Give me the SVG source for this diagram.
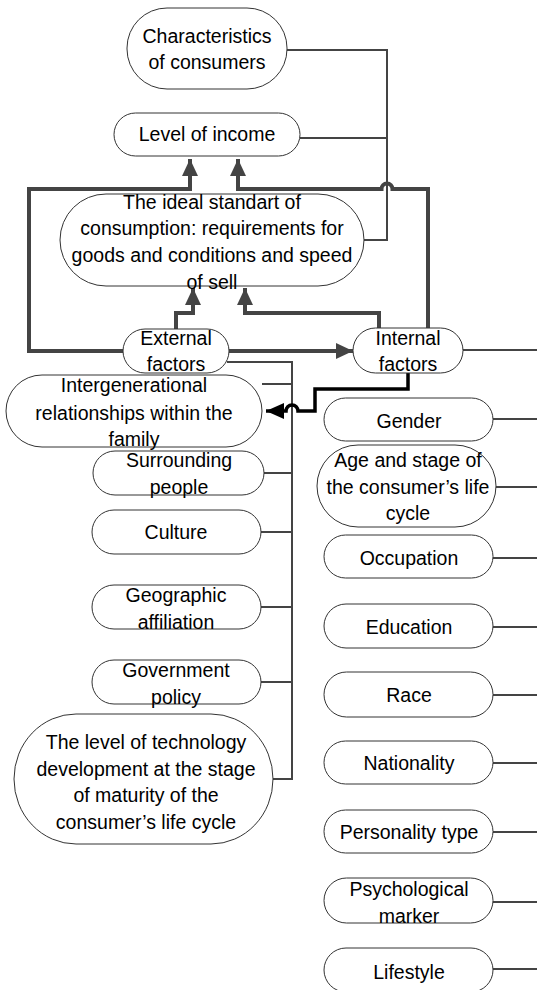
<svg xmlns="http://www.w3.org/2000/svg" width="537" height="990" viewBox="0 0 537 990">
<defs>
<style>
.n{fill:#fff;stroke:#333;stroke-width:1}
.t{font-family:"Liberation Sans",Arial,sans-serif;font-size:19.5px;fill:#000;text-anchor:middle}
.thin{fill:none;stroke:#444;stroke-width:2}
.thick{fill:none;stroke:#444;stroke-width:4}
.blk{fill:none;stroke:#000;stroke-width:3.5}
</style>
<marker id="ah" markerWidth="17" markerHeight="16" refX="17" refY="8" orient="auto" markerUnits="userSpaceOnUse"><path d="M0,0 L17,8 L0,16 Z" fill="#444"/></marker>
<marker id="ab" markerWidth="18" markerHeight="16" refX="18" refY="8" orient="auto" markerUnits="userSpaceOnUse"><path d="M0,0 L18,8 L0,16 Z" fill="#000"/></marker>
</defs>
<g id="connectors">
<path class="thin" d="M287,50 H387 V194 M387,184 V240 H364"/>
<path class="thin" d="M300,138 H387"/>
<path class="thick" d="M123,351 H29 V189 H190 V159" marker-end="url(#ah)"/>
<path class="thick" d="M428,329 V189 H392.5 A5.5,5.5 0 0 0 381.5,189 H238 V159" marker-end="url(#ah)"/>
<path class="thick" d="M176,329 V313 H193 V288" marker-end="url(#ah)"/>
<path class="thick" d="M379,329 V313 H245 V288" marker-end="url(#ah)"/>
<path class="thick" d="M229,351 H353" marker-end="url(#ah)"/>
<path class="thin" d="M462,350 H537"/>
<path class="thin" d="M227,362 H292 V779 H273"/>
<path class="thin" d="M262,384 H292"/>
<path class="thin" d="M264,473 H292"/>
<path class="thin" d="M261,532 H292"/>
<path class="thin" d="M261,607 H292"/>
<path class="thin" d="M261,682 H292"/>
<path class="blk" d="M408,366 V389 H315 V411 H298 A6,6 0 0 0 286,411 H266" marker-end="url(#ab)"/>
<path class="thin" d="M493,419 H537"/>
<path class="thin" d="M496,487 H537"/>
<path class="thin" d="M493,558 H537"/>
<path class="thin" d="M493,627 H537"/>
<path class="thin" d="M493,695 H537"/>
<path class="thin" d="M493,763 H537"/>
<path class="thin" d="M493,832 H537"/>
<path class="thin" d="M493,902 H537"/>
<path class="thin" d="M493,969 H537"/>
</g>
<g id="characteristics"><rect class="n" x="127" y="8" width="160" height="81" rx="40" ry="40"/><text class="t" x="207" y="43">Characteristics</text><text class="t" x="207" y="69">of consumers</text></g>
<g id="income"><rect class="n" x="114" y="113" width="186" height="43" rx="21.5"/><text class="t" x="207" y="141">Level of income</text></g>
<g id="ideal"><rect class="n" x="60" y="194" width="304" height="92" rx="46"/><text class="t" x="212" y="209">The ideal standart of</text><text class="t" x="212" y="235">consumption: requirements for</text><text class="t" x="212" y="262">goods and conditions and speed</text><text class="t" x="212" y="289">of sell</text></g>
<g id="external"><rect class="n" x="123" y="329" width="106" height="44" rx="22"/><text class="t" x="176" y="345">External</text><text class="t" x="176" y="371">factors</text></g>
<g id="internal"><rect class="n" x="353" y="328" width="110" height="45" rx="22.5"/><text class="t" x="408" y="345">Internal</text><text class="t" x="408" y="371">factors</text></g>
<g id="intergenerational"><rect class="n" x="6" y="375" width="256" height="72" rx="36"/><text class="t" x="134" y="392">Intergenerational</text><text class="t" x="134" y="420">relationships within the</text><text class="t" x="134" y="446">family</text></g>
<g id="surrounding"><rect class="n" x="93" y="451" width="171" height="44" rx="22"/><text class="t" x="179" y="467">Surrounding</text><text class="t" x="179" y="494">people</text></g>
<g id="culture"><rect class="n" x="92" y="510" width="169" height="44" rx="22"/><text class="t" x="176" y="539">Culture</text></g>
<g id="geographic"><rect class="n" x="92" y="585" width="169" height="44" rx="22"/><text class="t" x="176" y="602">Geographic</text><text class="t" x="176" y="629">affiliation</text></g>
<g id="government"><rect class="n" x="92" y="660" width="169" height="44" rx="22"/><text class="t" x="176" y="677">Government</text><text class="t" x="176" y="704">policy</text></g>
<g id="technology"><rect class="n" x="14" y="714" width="259" height="130" rx="62" ry="65"/><text class="t" x="146" y="749">The level of technology</text><text class="t" x="146" y="776">development at the stage</text><text class="t" x="146" y="802">of maturity of the</text><text class="t" x="146" y="829">consumer’s life cycle</text></g>
<g id="gender"><rect class="n" x="324" y="398" width="169" height="43" rx="21.5"/><text class="t" x="409" y="428">Gender</text></g>
<g id="age"><rect class="n" x="317" y="445" width="179" height="82" rx="41"/><text class="t" x="408" y="467">Age and stage of</text><text class="t" x="408" y="494">the consumer’s life</text><text class="t" x="408" y="520">cycle</text></g>
<g id="occupation"><rect class="n" x="324" y="535" width="169" height="43" rx="21.5"/><text class="t" x="409" y="565">Occupation</text></g>
<g id="education"><rect class="n" x="324" y="604" width="169" height="44" rx="22"/><text class="t" x="409" y="634">Education</text></g>
<g id="race"><rect class="n" x="324" y="672" width="169" height="45" rx="22.5"/><text class="t" x="409" y="702">Race</text></g>
<g id="nationality"><rect class="n" x="324" y="741" width="169" height="43" rx="21.5"/><text class="t" x="409" y="770">Nationality</text></g>
<g id="personality"><rect class="n" x="324" y="810" width="169" height="43" rx="21.5"/><text class="t" x="409" y="839">Personality type</text></g>
<g id="psychological"><rect class="n" x="324" y="878" width="169" height="45" rx="22.5"/><text class="t" x="409" y="896">Psychological</text><text class="t" x="409" y="923">marker</text></g>
<g id="lifestyle"><rect class="n" x="324" y="948" width="169" height="44" rx="22"/><text class="t" x="409" y="979">Lifestyle</text></g>
</svg>
